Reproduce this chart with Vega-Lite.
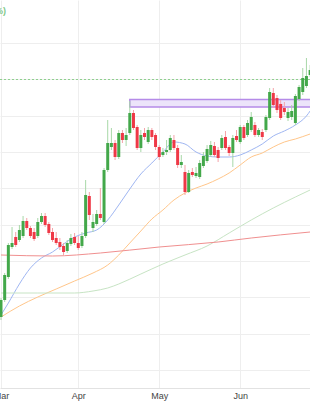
{
  "$schema": "https://vega.github.io/schema/vega-lite/v6.json",
  "width": 310,
  "height": 388,
  "autosize": {"type": "none"},
  "padding": {"left": 0, "top": 0, "right": 0, "bottom": 15},
  "background": "white",
  "config": {"view": {"stroke": null}, "axisX": {"labelFlush": false, "labelAlign": "center", "labelBound": false}},
  "datasets": {
    "candles": [
      {"i":0,"o":1.083,"c":1.100,"h":1.102,"l":1.080},
      {"i":1,"o":1.100,"c":1.125,"h":1.127,"l":1.098},
      {"i":2,"o":1.123,"c":1.155,"h":1.157,"l":1.121},
      {"i":3,"o":1.153,"c":1.157,"h":1.173,"l":1.151},
      {"i":4,"o":1.163,"c":1.155,"h":1.168,"l":1.153},
      {"i":5,"o":1.160,"c":1.170,"h":1.175,"l":1.158},
      {"i":6,"o":1.164,"c":1.179,"h":1.184,"l":1.162},
      {"i":7,"o":1.179,"c":1.172,"h":1.182,"l":1.170},
      {"i":8,"o":1.172,"c":1.164,"h":1.174,"l":1.162},
      {"i":9,"o":1.168,"c":1.161,"h":1.172,"l":1.159},
      {"i":10,"o":1.164,"c":1.178,"h":1.182,"l":1.162},
      {"i":11,"o":1.178,"c":1.184,"h":1.187,"l":1.176},
      {"i":12,"o":1.184,"c":1.175,"h":1.187,"l":1.173},
      {"i":13,"o":1.176,"c":1.167,"h":1.178,"l":1.165},
      {"i":14,"o":1.168,"c":1.160,"h":1.172,"l":1.158},
      {"i":15,"o":1.162,"c":1.157,"h":1.168,"l":1.155},
      {"i":16,"o":1.158,"c":1.153,"h":1.162,"l":1.150},
      {"i":17,"o":1.154,"c":1.148,"h":1.157,"l":1.145},
      {"i":18,"o":1.149,"c":1.157,"h":1.160,"l":1.147},
      {"i":19,"o":1.156,"c":1.162,"h":1.166,"l":1.154},
      {"i":20,"o":1.163,"c":1.157,"h":1.167,"l":1.155},
      {"i":21,"o":1.157,"c":1.152,"h":1.164,"l":1.150},
      {"i":22,"o":1.154,"c":1.164,"h":1.168,"l":1.152},
      {"i":23,"o":1.164,"c":1.205,"h":1.220,"l":1.162},
      {"i":24,"o":1.204,"c":1.185,"h":1.208,"l":1.180},
      {"i":25,"o":1.172,"c":1.178,"h":1.186,"l":1.168},
      {"i":26,"o":1.176,"c":1.186,"h":1.190,"l":1.174},
      {"i":27,"o":1.186,"c":1.182,"h":1.212,"l":1.180},
      {"i":28,"o":1.178,"c":1.230,"h":1.232,"l":1.176},
      {"i":29,"o":1.230,"c":1.257,"h":1.280,"l":1.228},
      {"i":30,"o":1.253,"c":1.257,"h":1.272,"l":1.250},
      {"i":31,"o":1.257,"c":1.243,"h":1.260,"l":1.240},
      {"i":32,"o":1.243,"c":1.267,"h":1.270,"l":1.241},
      {"i":33,"o":1.267,"c":1.260,"h":1.270,"l":1.257},
      {"i":34,"o":1.260,"c":1.265,"h":1.272,"l":1.254},
      {"i":35,"o":1.267,"c":1.287,"h":1.299,"l":1.265},
      {"i":36,"o":1.287,"c":1.272,"h":1.290,"l":1.270},
      {"i":37,"o":1.273,"c":1.252,"h":1.275,"l":1.250},
      {"i":38,"o":1.252,"c":1.265,"h":1.270,"l":1.248},
      {"i":39,"o":1.267,"c":1.263,"h":1.272,"l":1.260},
      {"i":40,"o":1.258,"c":1.270,"h":1.273,"l":1.256},
      {"i":41,"o":1.270,"c":1.263,"h":1.272,"l":1.260},
      {"i":42,"o":1.265,"c":1.253,"h":1.267,"l":1.250},
      {"i":43,"o":1.253,"c":1.243,"h":1.255,"l":1.240},
      {"i":44,"o":1.245,"c":1.248,"h":1.252,"l":1.243},
      {"i":45,"o":1.248,"c":1.250,"h":1.260,"l":1.245},
      {"i":46,"o":1.250,"c":1.262,"h":1.265,"l":1.248},
      {"i":47,"o":1.260,"c":1.252,"h":1.265,"l":1.250},
      {"i":48,"o":1.252,"c":1.235,"h":1.255,"l":1.232},
      {"i":49,"o":1.235,"c":1.238,"h":1.245,"l":1.232},
      {"i":50,"o":1.228,"c":1.208,"h":1.235,"l":1.205},
      {"i":51,"o":1.208,"c":1.227,"h":1.230,"l":1.207},
      {"i":52,"o":1.228,"c":1.225,"h":1.232,"l":1.223},
      {"i":53,"o":1.224,"c":1.227,"h":1.233,"l":1.222},
      {"i":54,"o":1.223,"c":1.237,"h":1.240,"l":1.221},
      {"i":55,"o":1.234,"c":1.244,"h":1.248,"l":1.232},
      {"i":56,"o":1.239,"c":1.251,"h":1.255,"l":1.237},
      {"i":57,"o":1.245,"c":1.255,"h":1.259,"l":1.243},
      {"i":58,"o":1.254,"c":1.245,"h":1.258,"l":1.243},
      {"i":59,"o":1.250,"c":1.242,"h":1.253,"l":1.238},
      {"i":60,"o":1.252,"c":1.262,"h":1.265,"l":1.250},
      {"i":61,"o":1.263,"c":1.252,"h":1.269,"l":1.250},
      {"i":62,"o":1.253,"c":1.247,"h":1.255,"l":1.244},
      {"i":63,"o":1.247,"c":1.262,"h":1.265,"l":1.233},
      {"i":64,"o":1.264,"c":1.260,"h":1.270,"l":1.258},
      {"i":65,"o":1.258,"c":1.273,"h":1.275,"l":1.256},
      {"i":66,"o":1.273,"c":1.262,"h":1.275,"l":1.260},
      {"i":67,"o":1.265,"c":1.277,"h":1.280,"l":1.263},
      {"i":68,"o":1.270,"c":1.283,"h":1.288,"l":1.268},
      {"i":69,"o":1.275,"c":1.265,"h":1.278,"l":1.263},
      {"i":70,"o":1.265,"c":1.270,"h":1.272,"l":1.263},
      {"i":71,"o":1.268,"c":1.263,"h":1.271,"l":1.260},
      {"i":72,"o":1.270,"c":1.283,"h":1.285,"l":1.268},
      {"i":73,"o":1.282,"c":1.308,"h":1.312,"l":1.280},
      {"i":74,"o":1.307,"c":1.295,"h":1.312,"l":1.292},
      {"i":75,"o":1.302,"c":1.290,"h":1.305,"l":1.287},
      {"i":76,"o":1.296,"c":1.282,"h":1.300,"l":1.280},
      {"i":77,"o":1.292,"c":1.288,"h":1.298,"l":1.285},
      {"i":78,"o":1.282,"c":1.288,"h":1.292,"l":1.279},
      {"i":79,"o":1.283,"c":1.289,"h":1.295,"l":1.280},
      {"i":80,"o":1.277,"c":1.304,"h":1.306,"l":1.275},
      {"i":81,"o":1.301,"c":1.313,"h":1.315,"l":1.299},
      {"i":82,"o":1.308,"c":1.322,"h":1.332,"l":1.305},
      {"i":83,"o":1.314,"c":1.324,"h":1.342,"l":1.312},
      {"i":84,"o":1.325,"c":1.330,"h":1.335,"l":1.323}
    ],
    "ma": [
      {"ma":"MA20","i":0,"v":1.085},{"ma":"MA20","i":2,"v":1.097},{"ma":"MA20","i":5,"v":1.116},{"ma":"MA20","i":8,"v":1.132},
      {"ma":"MA20","i":11,"v":1.142},{"ma":"MA20","i":14,"v":1.148},{"ma":"MA20","i":17,"v":1.156},{"ma":"MA20","i":20,"v":1.163},
      {"ma":"MA20","i":23,"v":1.167},{"ma":"MA20","i":26,"v":1.170},{"ma":"MA20","i":29,"v":1.180},{"ma":"MA20","i":32,"v":1.195},
      {"ma":"MA20","i":35,"v":1.211},{"ma":"MA20","i":38,"v":1.226},{"ma":"MA20","i":41,"v":1.237},{"ma":"MA20","i":44,"v":1.248},
      {"ma":"MA20","i":47,"v":1.258},{"ma":"MA20","i":50,"v":1.256},{"ma":"MA20","i":53,"v":1.248},{"ma":"MA20","i":56,"v":1.244},
      {"ma":"MA20","i":59,"v":1.243},{"ma":"MA20","i":62,"v":1.243},{"ma":"MA20","i":65,"v":1.245},{"ma":"MA20","i":68,"v":1.250},
      {"ma":"MA20","i":71,"v":1.256},{"ma":"MA20","i":74,"v":1.264},{"ma":"MA20","i":77,"v":1.269},{"ma":"MA20","i":80,"v":1.275},
      {"ma":"MA20","i":83,"v":1.284},{"ma":"MA20","i":84,"v":1.289},
      {"ma":"MA50","i":0,"v":1.083},{"ma":"MA50","i":5,"v":1.094},{"ma":"MA50","i":10,"v":1.103},{"ma":"MA50","i":15,"v":1.111},
      {"ma":"MA50","i":20,"v":1.119},{"ma":"MA50","i":25,"v":1.127},{"ma":"MA50","i":29,"v":1.135},{"ma":"MA50","i":32,"v":1.145},
      {"ma":"MA50","i":35,"v":1.157},{"ma":"MA50","i":38,"v":1.169},{"ma":"MA50","i":41,"v":1.181},{"ma":"MA50","i":44,"v":1.190},
      {"ma":"MA50","i":47,"v":1.200},{"ma":"MA50","i":50,"v":1.207},{"ma":"MA50","i":53,"v":1.212},{"ma":"MA50","i":56,"v":1.216},
      {"ma":"MA50","i":59,"v":1.221},{"ma":"MA50","i":62,"v":1.227},{"ma":"MA50","i":65,"v":1.235},{"ma":"MA50","i":68,"v":1.243},
      {"ma":"MA50","i":71,"v":1.247},{"ma":"MA50","i":74,"v":1.253},{"ma":"MA50","i":77,"v":1.258},{"ma":"MA50","i":80,"v":1.261},
      {"ma":"MA50","i":84,"v":1.266},
      {"ma":"MA100","i":0,"v":1.107},{"ma":"MA100","i":10,"v":1.107},{"ma":"MA100","i":20,"v":1.107},{"ma":"MA100","i":25,"v":1.109},
      {"ma":"MA100","i":29,"v":1.112},{"ma":"MA100","i":32,"v":1.116},{"ma":"MA100","i":38,"v":1.126},{"ma":"MA100","i":44,"v":1.136},
      {"ma":"MA100","i":50,"v":1.145},{"ma":"MA100","i":56,"v":1.154},{"ma":"MA100","i":62,"v":1.167},{"ma":"MA100","i":68,"v":1.180},
      {"ma":"MA100","i":74,"v":1.192},{"ma":"MA100","i":80,"v":1.203},{"ma":"MA100","i":84,"v":1.210},
      {"ma":"MA200","i":0,"v":1.145},{"ma":"MA200","i":14,"v":1.144},{"ma":"MA200","i":27,"v":1.147},{"ma":"MA200","i":43,"v":1.153},
      {"ma":"MA200","i":59,"v":1.158},{"ma":"MA200","i":68,"v":1.162},{"ma":"MA200","i":84,"v":1.168}
    ],
    "zone": [{"from":35,"to":90,"low":1.293,"high":1.3005}],
    "level": [{"price":1.3205}],
    "note": [{"i":1.36,"price":1.3895,"label":"%)"}]
  },
  "layer": [
    {
      "data": {"name": "zone"},
      "mark": {"type": "rect", "fill": "#ece4fa", "stroke": "#b58be8", "strokeWidth": 1.5, "clip": true},
      "encoding": {
        "x": {"field": "from", "type": "quantitative",
          "scale": {"domain": [-0.27, 83.97], "nice": false, "zero": false, "padding": 0},
          "axis": {"values": [0, 21, 43, 65], "grid": true, "gridColor": "#eeeeee", "domainColor": "#e2e2e2", "ticks": false,
            "labelExpr": "datum.value == 0 ? 'Mar' : datum.value == 21 ? 'Apr' : datum.value == 43 ? 'May' : 'Jun'",
            "labelFlush": false, "labelAlign": "center", "labelOverlap": false, "labelPadding": 3, "labelFontSize": 9, "labelColor": "#444444",
            "labelFont": "Liberation Sans", "title": null}},
        "x2": {"field": "to"},
        "y": {"field": "low", "type": "quantitative",
          "scale": {"domain": [1.012, 1.4], "nice": false, "zero": false, "padding": 0},
          "axis": {"values": [1.375, 1.35684, 1.33868, 1.32052, 1.30236, 1.2842, 1.26604, 1.24788, 1.22972, 1.21156, 1.1934, 1.17524, 1.15708, 1.13892, 1.12076, 1.1026, 1.08444, 1.06628, 1.04812, 1.02996],
            "grid": true, "gridColor": "#eeeeee", "labels": false, "ticks": false, "domain": false, "title": null}},
        "y2": {"field": "high"}
      }
    },
    {
      "data": {"name": "level"},
      "mark": {"type": "rule", "color": "#8fd08f", "strokeDash": [2, 2], "strokeWidth": 1},
      "encoding": {"y": {"field": "price", "type": "quantitative"}}
    },
    {
      "data": {"name": "ma"},
      "mark": {"type": "line", "interpolate": "monotone", "strokeWidth": 1, "clip": true},
      "encoding": {
        "x": {"field": "i", "type": "quantitative"},
        "y": {"field": "v", "type": "quantitative"},
        "color": {"field": "ma", "type": "nominal",
          "scale": {"domain": ["MA20", "MA50", "MA100", "MA200"], "range": ["#9fb6f2", "#ffc68a", "#c7e4c4", "#f08f8f"]},
          "legend": null}
      }
    },
    {
      "data": {"name": "candles"},
      "mark": {"type": "rule", "strokeWidth": 1, "clip": true},
      "encoding": {
        "x": {"field": "i", "type": "quantitative"},
        "y": {"field": "l", "type": "quantitative"},
        "y2": {"field": "h"},
        "color": {"condition": {"test": "datum.c >= datum.o", "value": "#a8d8a8"}, "value": "#f5a3a9"}
      }
    },
    {
      "data": {"name": "candles"},
      "mark": {"type": "bar", "size": 3, "clip": true},
      "encoding": {
        "x": {"field": "i", "type": "quantitative"},
        "y": {"field": "o", "type": "quantitative"},
        "y2": {"field": "c"},
        "color": {"condition": {"test": "datum.c >= datum.o", "value": "#43a84a"}, "value": "#ef3846"}
      }
    },
    {
      "data": {"name": "note"},
      "mark": {"type": "text", "align": "right", "baseline": "middle", "fontSize": 9, "fontWeight": "bold", "color": "#7fc98a", "font": "Liberation Sans"},
      "encoding": {
        "x": {"field": "i", "type": "quantitative"},
        "y": {"field": "price", "type": "quantitative"},
        "text": {"field": "label"}
      }
    }
  ]
}
